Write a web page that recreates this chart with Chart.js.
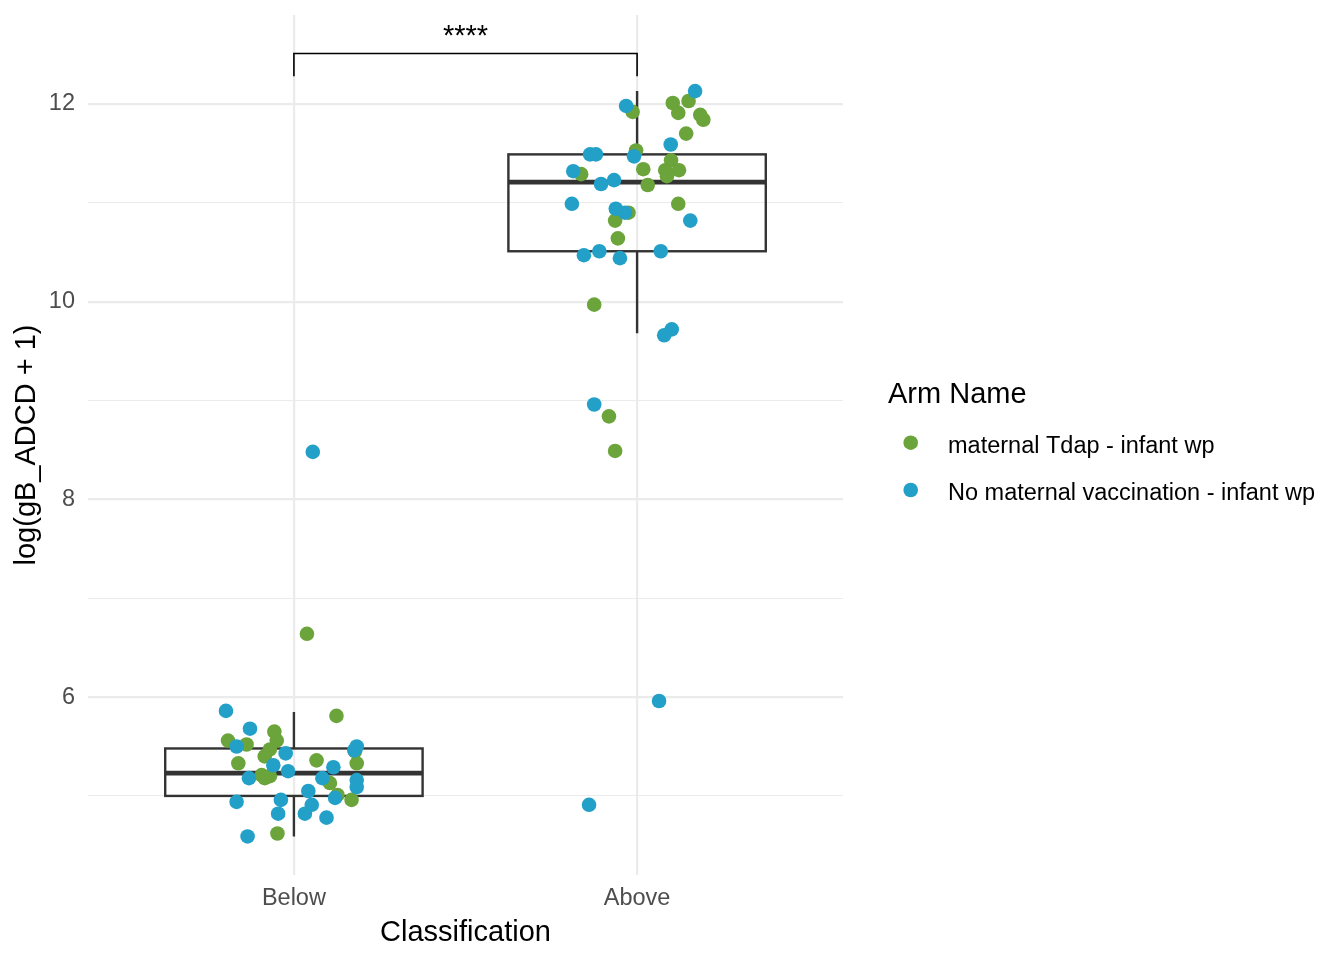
<!DOCTYPE html>
<html>
<head>
<meta charset="utf-8">
<script src="https://cdn.jsdelivr.net/npm/chart.js@4.4.1/dist/chart.umd.min.js"></script>
<style>
html,body{margin:0;padding:0;background:#ffffff;}
#wrap{width:1344px;height:960px;}
</style>
</head>
<body>
<div id="wrap"><canvas id="c" width="1344" height="960"></canvas></div>
<script>
// ---------- data ----------
const categories = ['Below', 'Above'];
const seriesNames = ['maternal Tdap - infant wp', 'No maternal vaccination - infant wp'];
const seriesColors = ['#6BA43A', '#22A0C8'];

// jitter offsets (in category units) and values
const tdapBelowJitter = [0.124, -0.057, -0.192, -0.138, -0.050, -0.070, -0.085, -0.162, -0.094, -0.070, 0.066, 0.105, 0.127, 0.168, 0.178, 0.183, -0.048, 0.038, -0.085];
const tdapBelowValue  = [5.81, 5.65, 5.56, 5.52, 5.56, 5.47, 5.40, 5.33, 5.21, 5.20, 5.36, 5.13, 5.01, 4.96, 5.45, 5.33, 4.62, 6.64, 5.18];
const tdapAboveJitter = [-0.013, 0.104, 0.150, 0.120, 0.184, 0.193, 0.143, -0.003, 0.018, -0.163, 0.031, 0.099, 0.082, 0.122, 0.087, 0.120, -0.025, -0.064, -0.056, -0.125, -0.082, -0.064];
const tdapAboveValue  = [11.92, 12.01, 12.03, 11.91, 11.89, 11.84, 11.70, 11.53, 11.34, 11.29, 11.18, 11.43, 11.33, 11.33, 11.27, 10.99, 10.90, 10.82, 10.64, 9.97, 8.84, 8.49];

const noVaxBelowJitter = [-0.198, -0.128, -0.167, -0.024, -0.060, -0.017, -0.131, 0.115, 0.083, 0.183, 0.176, 0.183, 0.183, 0.120, 0.042, -0.167, -0.038, 0.052, 0.032, -0.046, 0.095, -0.135, 0.055];
const noVaxBelowValue  = [5.86, 5.68, 5.50, 5.43, 5.31, 5.25, 5.18, 5.29, 5.18, 5.50, 5.46, 5.16, 5.09, 4.98, 5.05, 4.94, 4.96, 4.91, 4.82, 4.82, 4.78, 4.59, 8.48];
const noVaxAboveJitter = [0.169, -0.032, -0.137, -0.120, 0.098, -0.009, -0.186, -0.105, -0.067, -0.190, -0.062, -0.035, 0.155, -0.155, -0.110, -0.050, 0.069, 0.101, 0.079, -0.125, 0.064, -0.140];
const noVaxAboveValue  = [12.13, 11.98, 11.49, 11.49, 11.59, 11.47, 11.32, 11.19, 11.23, 10.99, 10.94, 10.90, 10.82, 10.47, 10.51, 10.44, 10.51, 9.72, 9.66, 8.96, 5.96, 4.91];

// boxplot statistics per category
const boxLow    = [4.59, 9.68];
const boxQ1     = [5.00, 10.51];
const boxMedian = [5.23, 11.21];
const boxQ3     = [5.48, 11.49];
const boxHigh   = [5.85, 12.13];

// axis ticks
const yMajorTicks = [6, 8, 10, 12];
const yMinorTicks = [5, 7, 9, 11];

// significance annotation
const sigLabel = '****';
const sigBracketLow = 12.28;
const sigBracketHigh = 12.51;
const sigLabelValue = 12.60;

// ---------- build ----------
const FONT = "'Liberation Sans', Arial, Helvetica, sans-serif";
Chart.defaults.font.family = FONT;

function toPoints(catIndex, jit, vals) {
  return vals.map((v, i) => ({ x: catIndex + 1 + jit[i], y: v }));
}
const tdapPoints = toPoints(0, tdapBelowJitter, tdapBelowValue).concat(toPoints(1, tdapAboveJitter, tdapAboveValue));
const noVaxPoints = toPoints(0, noVaxBelowJitter, noVaxBelowValue).concat(toPoints(1, noVaxAboveJitter, noVaxAboveValue));

const allYTicks = yMinorTicks.concat(yMajorTicks).sort((a, b) => a - b);
const BOX_HALF = 0.375;

const extras = {
  id: 'extras',
  beforeDatasetsDraw(chart) {
    const { ctx, scales: { x, y } } = chart;
    ctx.save();
    ctx.strokeStyle = '#333333';
    ctx.lineCap = 'butt';
    categories.forEach((c, i) => {
      const cx = x.getPixelForValue(i + 1);
      const l = x.getPixelForValue(i + 1 - BOX_HALF);
      const r = x.getPixelForValue(i + 1 + BOX_HALF);
      const yLo = y.getPixelForValue(boxLow[i]);
      const yQ1 = y.getPixelForValue(boxQ1[i]);
      const yMd = y.getPixelForValue(boxMedian[i]);
      const yQ3 = y.getPixelForValue(boxQ3[i]);
      const yHi = y.getPixelForValue(boxHigh[i]);
      ctx.lineWidth = 2.4;
      ctx.beginPath();
      ctx.moveTo(cx, yHi); ctx.lineTo(cx, yQ3);
      ctx.moveTo(cx, yQ1); ctx.lineTo(cx, yLo);
      ctx.stroke();
      ctx.strokeRect(l, yQ3, r - l, yQ1 - yQ3);
      ctx.lineWidth = 4.8;
      ctx.beginPath();
      ctx.moveTo(l, yMd); ctx.lineTo(r, yMd);
      ctx.stroke();
    });
    ctx.restore();
  },
  afterDraw(chart) {
    const { ctx, scales: { x, y } } = chart;
    ctx.save();
    // significance bracket
    const x1 = x.getPixelForValue(1), x2 = x.getPixelForValue(2);
    const yb = y.getPixelForValue(sigBracketHigh), yt = y.getPixelForValue(sigBracketLow);
    ctx.strokeStyle = '#000000';
    ctx.lineWidth = 1.6;
    ctx.beginPath();
    ctx.moveTo(x1, yt); ctx.lineTo(x1, yb); ctx.lineTo(x2, yb); ctx.lineTo(x2, yt);
    ctx.stroke();
    ctx.fillStyle = '#000000';
    ctx.font = '29px ' + FONT;
    ctx.textAlign = 'center';
    ctx.textBaseline = 'alphabetic';
    ctx.fillText(sigLabel, (x1 + x2) / 2, y.getPixelForValue(sigLabelValue));

    // legend
    const lx = 888;
    ctx.textAlign = 'left';
    ctx.font = '29px ' + FONT;
    ctx.fillText('Arm Name', lx, 403);
    const dotYs = [442.7, 490];
    const textYs = [453, 499.5];
    ctx.font = '23.5px ' + FONT;
    seriesNames.forEach((n, i) => {
      ctx.fillStyle = seriesColors[i];
      ctx.beginPath();
      ctx.arc(910.7, dotYs[i], 7.3, 0, Math.PI * 2);
      ctx.fill();
      ctx.fillStyle = '#000000';
      ctx.fillText(n, 948, textYs[i]);
    });
    ctx.restore();
  }
};

new Chart(document.getElementById('c'), {
  type: 'scatter',
  data: {
    datasets: [
      { label: seriesNames[0], data: tdapPoints, backgroundColor: seriesColors[0], borderWidth: 0, pointRadius: 7.3, pointHoverRadius: 7.3, order: 1 },
      { label: seriesNames[1], data: noVaxPoints, backgroundColor: seriesColors[1], borderWidth: 0, pointRadius: 7.3, pointHoverRadius: 7.3, order: 0 }
    ]
  },
  options: {
    responsive: false,
    animation: false,
    devicePixelRatio: 1,
    layout: { padding: { left: 0, right: 501, top: 15, bottom: 0 } },
    plugins: { legend: { display: false }, tooltip: { enabled: false } },
    scales: {
      x: {
        type: 'linear',
        min: 0.4, max: 2.6,
        afterBuildTicks: (s) => { s.ticks = categories.map((c, i) => ({ value: i + 1 })); },
        afterFit: (s) => { s.height = 85; s.paddingLeft = 0; s.paddingRight = 0; },
        ticks: {
          callback: (v) => categories[Math.round(v) - 1] || '',
          font: { size: 23.5, family: FONT },
          color: '#4D4D4D',
          padding: 9,
          autoSkip: false,
          maxRotation: 0
        },
        grid: { color: '#EBEBEB', lineWidth: 2.2, drawTicks: false },
        border: { display: false },
        title: { display: true, text: 'Classification', color: '#000000', font: { size: 29, family: FONT, lineHeight: 1 }, padding: { top: 0, bottom: 13 } }
      },
      y: {
        type: 'linear',
        min: 4.2, max: 12.9,
        afterBuildTicks: (s) => { s.ticks = allYTicks.map(v => ({ value: v })); },
        afterFit: (s) => { s.width = 88; s.paddingTop = 0; s.paddingBottom = 0; },
        ticks: {
          callback: (v) => yMajorTicks.includes(v) ? String(v) : '',
          font: { size: 23.5, family: FONT },
          color: '#4D4D4D',
          padding: 13,
          autoSkip: false
        },
        grid: {
          color: '#EBEBEB',
          lineWidth: (ctx) => (ctx.tick && yMajorTicks.includes(ctx.tick.value)) ? 2.2 : 1.1,
          drawTicks: false
        },
        border: { display: false },
        title: { display: true, text: 'log(gB_ADCD + 1)', color: '#000000', font: { size: 29, family: FONT, lineHeight: 1 }, padding: { top: 12.5, bottom: 0 } }
      }
    }
  },
  plugins: [extras]
});
</script>
</body>
</html>
